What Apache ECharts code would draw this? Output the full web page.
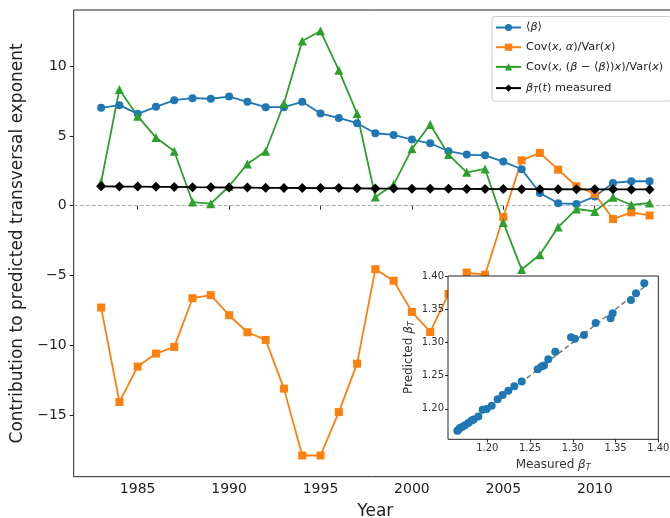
<!DOCTYPE html>
<html>
<head>
<meta charset="utf-8">
<script src="https://cdn.jsdelivr.net/npm/echarts@6/dist/echarts.min.js"></script>
<style>html,body{margin:0;padding:0;background:#fff}#c{width:670px;height:518px}</style>
</head>
<body>
<div id="c"></div>
<script>
const years = [1983,1984,1985,1986,1987,1988,1989,1990,1991,1992,1993,1994,1995,1996,1997,1998,1999,2000,2001,2002,2003,2004,2005,2006,2007,2008,2009,2010,2011,2012,2013];
const meanBeta = [7.01,7.20,6.58,7.08,7.56,7.70,7.66,7.82,7.44,7.06,7.06,7.44,6.60,6.29,5.91,5.19,5.07,4.74,4.47,3.90,3.66,3.61,3.16,2.61,0.91,0.17,0.12,0.65,1.63,1.75,1.75];
const covAlpha = [-7.30,-14.07,-11.53,-10.60,-10.12,-6.63,-6.41,-7.85,-9.07,-9.62,-13.11,-17.90,-17.90,-14.79,-11.32,-4.55,-5.38,-7.61,-9.05,-6.32,-4.79,-4.95,-0.81,3.25,3.78,2.58,1.39,0.84,-0.96,-0.48,-0.70];
const covBeta = [1.68,8.33,6.41,4.88,3.90,0.26,0.14,1.39,2.99,3.90,7.32,11.80,12.51,9.71,6.60,0.62,1.51,4.07,5.81,3.66,2.39,2.63,-1.20,-4.57,-3.52,-1.53,-0.24,-0.41,0.60,0.05,0.19];
const betaMeasured = [1.3836,1.3739,1.368,1.3466,1.3442,1.3267,1.3131,1.3025,1.2979,1.2795,1.2713,1.2663,1.2635,1.2589,1.2402,1.2316,1.2246,1.2179,1.2121,1.2051,1.1992,1.1945,1.1895,1.184,1.1817,1.1778,1.1739,1.171,1.168,1.166,1.1649];
const betaPredicted = [1.389,1.3739,1.3639,1.3439,1.3363,1.3293,1.3113,1.3053,1.3078,1.2857,1.2747,1.2652,1.2637,1.2596,1.2411,1.2341,1.2271,1.2206,1.2145,1.2045,1.1995,1.1985,1.1885,1.184,1.1825,1.1784,1.175,1.173,1.171,1.168,1.1669];
const yearTicks = [1985,1990,1995,2000,2005,2010];
const mainYTicks = [-15,-10,-5,0,5,10];
const insetTicks = [1.20,1.25,1.30,1.35,1.40];
const legendNames = ['⟨β⟩','Cov(x,α)/Var(x)','Cov(x,(β−⟨β⟩)x)/Var(x)','βT(t) measured'];

const FF = 'DejaVu Sans';
const zip = (a,b) => a.map((v,i)=>[v,b[i]]);
const lo = Math.min(...betaMeasured), hi = Math.max(...betaMeasured);

const LF = 11.3;
const legendRich = {
  i:{fontFamily:FF,fontStyle:'italic',fontSize:LF,color:'#222',lineHeight:12},
  n:{fontFamily:FF,fontSize:LF,color:'#222',lineHeight:12},
  s:{fontFamily:FF,fontStyle:'italic',fontSize:8,color:'#222',padding:[6,0,0,0],lineHeight:12}
};
const legendFmt = {
  '⟨β⟩':'{n|⟨}{i|β}{n|⟩}',
  'Cov(x,α)/Var(x)':'{n|Cov(}{i|x}{n|, }{i|α}{n|)/Var(}{i|x}{n|)}',
  'Cov(x,(β−⟨β⟩)x)/Var(x)':'{n|Cov(}{i|x}{n|, (}{i|β}{n| − ⟨}{i|β}{n|⟩)}{i|x}{n|)/Var(}{i|x}{n|)}',
  'βT(t) measured':'{i|β}{s|T}{n|(}{i|t}{n|) measured}'
};
const axisRich = {
  i:{fontFamily:FF,fontStyle:'italic',fontSize:12,color:'#333'},
  s:{fontFamily:FF,fontStyle:'italic',fontSize:8,color:'#333',padding:[7,0,0,0]}
};

const chart = echarts.init(document.getElementById('c'), null, {renderer:'canvas'});
const lineBase = (name, data, color, symbol, size) => ({
  name, type:'line', data: zip(years, data), xAxisIndex:0, yAxisIndex:0,
  symbol, symbolSize:size, showSymbol:true,
  lineStyle:{color, width:1.8}, itemStyle:{color, borderWidth:0},
  z:3, silent:true
});
const s1 = lineBase(legendNames[0], meanBeta, '#1f77b4', 'circle', 8);
s1.markLine = {silent:true, symbol:'none', data:[{yAxis:0}], label:{show:false},
  lineStyle:{type:[4,2], color:'#aaaaaa', width:1}, z:1};

chart.setOption({
  animation:false,
  grid:[
    {left:73.7, top:10, right:-7, bottom:41.3, outerBoundsMode:'none', containLabel:false, show:true, borderColor:'#222', borderWidth:1, backgroundColor:'transparent'},
    {left:448, top:276, width:210.3, height:163.3, outerBoundsMode:'none', containLabel:false, show:true, borderColor:'#222', borderWidth:1, backgroundColor:'#fff', z:10}
  ],
  xAxis:[
    {type:'value', gridIndex:0, min:1981.5, max:2014.5,
     axisLine:{show:false}, splitLine:{show:false},
     axisTick:{show:true, length:4, lineStyle:{color:'#222'}, customValues:yearTicks},
     axisLabel:{fontFamily:FF, fontSize:14, color:'#222', margin:6, customValues:yearTicks, formatter:v=>String(v)},
     name:'Year', nameLocation:'middle', nameGap:26, nameTextStyle:{fontFamily:FF, fontSize:17, color:'#222'}},
    {type:'value', gridIndex:1, min:1.154, max:1.40, z:11,
     axisLine:{show:false}, splitLine:{show:false},
     axisTick:{show:true, length:3, lineStyle:{color:'#222'}, customValues:insetTicks},
     axisLabel:{fontFamily:FF, fontSize:10, color:'#333', margin:4, customValues:insetTicks, formatter:v=>v.toFixed(2)},
     name:'Measured {i|β}{s|T}', nameLocation:'middle', nameGap:18, nameTextStyle:{fontFamily:FF, fontSize:12, color:'#333', rich:axisRich}}
  ],
  yAxis:[
    {type:'value', gridIndex:0, min:-19.42, max:14.02,
     axisLine:{show:false}, splitLine:{show:false},
     axisTick:{show:true, length:4, lineStyle:{color:'#222'}, customValues:mainYTicks},
     axisLabel:{fontFamily:FF, fontSize:14, color:'#222', margin:7, customValues:mainYTicks, formatter:v=>v<0?'−'+Math.abs(v):String(v)},
     name:'Contribution to predicted transversal exponent', nameLocation:'middle', nameGap:39,
     nameTextStyle:{fontFamily:FF, fontSize:17, color:'#222'}},
    {type:'value', gridIndex:1, min:1.154, max:1.40, z:11,
     axisLine:{show:false}, splitLine:{show:false},
     axisTick:{show:true, length:3, lineStyle:{color:'#222'}, customValues:insetTicks},
     axisLabel:{fontFamily:FF, fontSize:10, color:'#333', margin:4, customValues:insetTicks, formatter:v=>v.toFixed(2)},
     name:'Predicted {i|β}{s|T}', nameLocation:'middle', nameGap:32, nameTextStyle:{fontFamily:FF, fontSize:12, color:'#333', rich:axisRich}}
  ],
  legend:{
    left:492, top:16.5, orient:'vertical', data:legendNames,
    itemWidth:25, itemHeight:9, itemGap:8.7,
    padding:[5.5,8,6,3],
    borderColor:'#d0d0d0', borderWidth:1, borderRadius:3, backgroundColor:'rgba(255,255,255,0.85)',
    formatter:n=>legendFmt[n]||n,
    textStyle:{fontFamily:FF, fontSize:LF, color:'#222', rich:legendRich}
  },
  series:[
    s1,
    lineBase(legendNames[1], covAlpha, '#ff7f0e', 'rect', 8),
    lineBase(legendNames[2], covBeta, '#2ca02c', 'triangle', 9),
    lineBase(legendNames[3], betaMeasured, '#000000', 'diamond', 10),
    {type:'line', xAxisIndex:1, yAxisIndex:1, data:[[lo,lo],[hi,hi]], symbol:'none',
     lineStyle:{color:'#808080', width:1.6, type:[5,3]}, z:12, silent:true},
    {type:'scatter', xAxisIndex:1, yAxisIndex:1, data:zip(betaMeasured, betaPredicted),
     symbol:'circle', symbolSize:8, itemStyle:{color:'#1f77b4', opacity:1}, z:13, silent:true}
  ]
});
</script>
</body>
</html>
